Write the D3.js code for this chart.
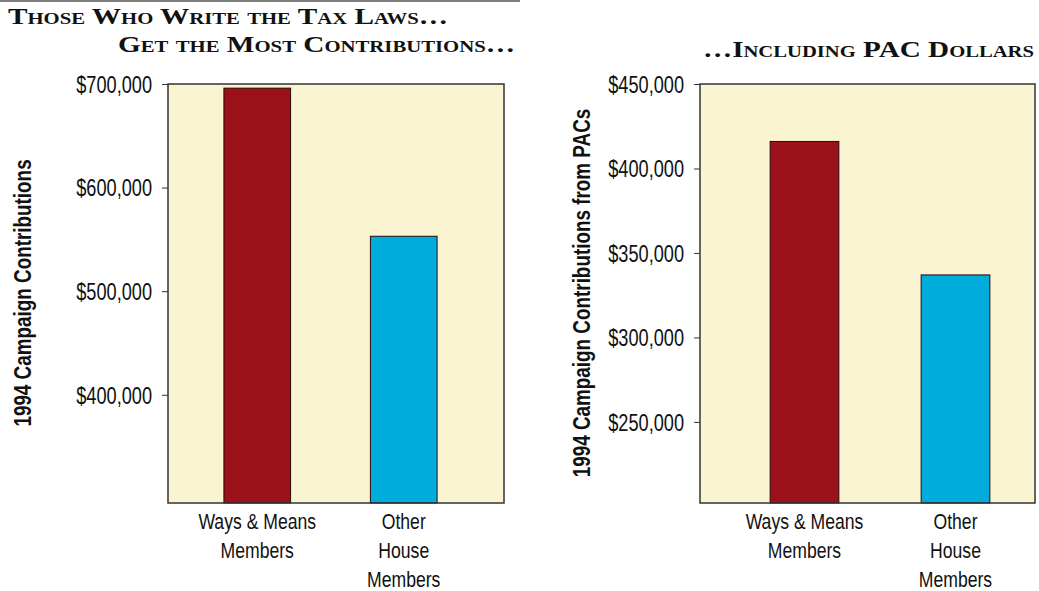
<!DOCTYPE html>
<html>
<head>
<meta charset="utf-8">
<script src="https://cdn.jsdelivr.net/npm/d3@7"></script>
<style>
  body { margin: 0; background: #fff; }
  .ttl { font-family: "Liberation Serif", "DejaVu Serif", serif; font-weight: bold; font-variant: small-caps; fill: #111; }
  .lbl { font-family: "Liberation Sans", Arial, sans-serif; fill: #111; }
</style>
</head>
<body>
<svg id="chart" width="1039" height="591"></svg>
<script>
// data
var categories = ["Ways & Means Members", "Other House Members"];
var catLines = [["Ways & Means", "Members"], ["Other", "House", "Members"]];
var totalValues = [696000, 553000];
var pacValues = [416000, 337000];
var totalTicks = [400000, 500000, 600000, 700000];
var pacTicks = [250000, 300000, 350000, 400000, 450000];
var barColors = ["#9a1119", "#00acdc"];

var svg = d3.select("svg#chart");
var fmt = d3.format("$,");

// squeeze text horizontally, the original uses a condensed face
function narrow(sel, k) {
  sel.each(function () {
    var w = this.getComputedTextLength();
    d3.select(this)
      .attr("textLength", w * k)
      .attr("lengthAdjust", "spacingAndGlyphs");
  });
}

// rule across the top
svg.append("line")
  .attr("x1", 0).attr("x2", 520)
  .attr("y1", 1).attr("y2", 1)
  .attr("stroke", "#555").attr("stroke-width", 1.5);

var titles = [
  {text: "Those Who Write the Tax Laws…", x: 8, y: 24, w: 440, anchor: "start"},
  {text: "Get the Most Contributions…", x: 118, y: 52, w: 397, anchor: "start"},
  {text: "…Including PAC Dollars", x: 1034, y: 57, w: 331, anchor: "end"}
];
svg.selectAll("text.ttl")
  .data(titles)
  .enter()
  .append("text")
  .attr("class", "ttl")
  .attr("x", function (d) { return d.x; })
  .attr("y", function (d) { return d.y; })
  .attr("text-anchor", function (d) { return d.anchor; })
  .attr("textLength", function (d) { return d.w; })
  .attr("lengthAdjust", "spacingAndGlyphs")
  .style("font-size", "24px")
  .text(function (d) { return d.text; });

function panel(opts) {
  var y = d3.scaleLinear().domain(opts.domain).range([503, 84]);
  var x = d3.scaleBand().domain(categories)
    .range(opts.band).paddingInner(0.545).paddingOuter(0.2725);

  var g = svg.append("g");

  g.append("rect")
    .attr("x", opts.left).attr("y", 84)
    .attr("width", opts.right - opts.left).attr("height", 419)
    .attr("fill", "#faf4d2");

  g.selectAll("rect.bar")
    .data(opts.values)
    .enter()
    .append("rect")
    .attr("class", "bar")
    .attr("x", function (d, i) { return x(categories[i]); })
    .attr("width", x.bandwidth())
    .attr("y", function (d) { return y(d); })
    .attr("height", function (d) { return 503 - y(d); })
    .attr("fill", function (d, i) { return barColors[i]; })
    .attr("stroke", "#2a0a0a")
    .attr("stroke-width", 1);

  g.append("rect")
    .attr("x", opts.left).attr("y", 84)
    .attr("width", opts.right - opts.left).attr("height", 419)
    .attr("fill", "none")
    .attr("stroke", "#333").attr("stroke-width", 1.5);

  var axis = d3.axisLeft(y)
    .tickValues(opts.ticks)
    .tickFormat(fmt)
    .tickSize(6)
    .tickPadding(10);

  var ag = g.append("g")
    .attr("transform", "translate(" + opts.left + ",0)")
    .call(axis);
  ag.select(".domain").remove();
  ag.selectAll(".tick line").attr("stroke", "#333");
  ag.selectAll(".tick text")
    .attr("class", "lbl")
    .attr("font-family", null)
    .style("font-size", "23px")
    .attr("dy", "0.36em")
    .attr("fill", "#111");
  narrow(ag.selectAll(".tick text"), 0.79);

  // category labels
  var cats = g.selectAll("text.cat")
    .data(catLines)
    .enter()
    .append("text")
    .attr("class", "lbl cat")
    .attr("text-anchor", "middle")
    .style("font-size", "22px")
    .attr("y", 529)
    .each(function (lines, i) {
      var cx = x(categories[i]) + x.bandwidth() / 2;
      d3.select(this).selectAll("tspan")
        .data(lines)
        .enter()
        .append("tspan")
        .attr("x", cx)
        .attr("dy", function (d, j) { return j === 0 ? 0 : 29; })
        .text(function (d) { return d; });
    });
  narrow(cats.selectAll("tspan"), 0.8);

  var yt = g.append("text")
    .attr("class", "lbl")
    .attr("transform", "translate(" + opts.titleX + ",293) rotate(-90)")
    .attr("text-anchor", "middle")
    .style("font-size", "23px")
    .style("font-weight", "bold")
    .text(opts.title);
  narrow(yt, 0.82);
}

panel({
  left: 168, right: 504, band: [184, 477],
  domain: [295500, 700000], values: totalValues, ticks: totalTicks,
  title: "1994 Campaign Contributions", titleX: 31
});

panel({
  left: 700, right: 1035, band: [729, 1031],
  domain: [202000, 450000], values: pacValues, ticks: pacTicks,
  title: "1994 Campaign Contributions from PACs", titleX: 590
});
</script>
</body>
</html>
